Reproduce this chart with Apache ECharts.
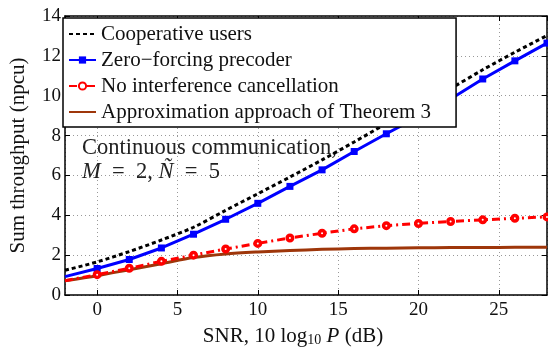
<!DOCTYPE html>
<html>
<head>
<meta charset="utf-8">
<script src="https://cdn.jsdelivr.net/npm/echarts@6/dist/echarts.min.js"></script>
<style>
html, body { margin: 0; padding: 0; background: #fff; }
#main { width: 548px; height: 352px; }
</style>
</head>
<body>
<div id="main"></div>
<script>
// SNR (dB)
var snr = [-2, 0, 2, 4, 6, 8, 10, 12, 14, 16, 18, 20, 22, 24, 26, 28];
// sum throughput (npcu)
var coopUsers = [1.24, 1.66, 2.18, 2.76, 3.40, 4.25, 5.08, 5.92, 6.78, 7.68, 8.60, 9.48, 10.36, 11.30, 12.18, 13.02];
var zfPrecoder = [0.92, 1.33, 1.78, 2.36, 3.05, 3.80, 4.60, 5.45, 6.28, 7.20, 8.09, 8.95, 9.84, 10.84, 11.75, 12.64];
var noCancel = [0.72, 1.02, 1.34, 1.69, 2.00, 2.31, 2.59, 2.86, 3.10, 3.32, 3.48, 3.59, 3.69, 3.77, 3.85, 3.92];
var approxThm3 = [0.72, 0.97, 1.27, 1.57, 1.88, 2.06, 2.16, 2.23, 2.29, 2.33, 2.35, 2.37, 2.38, 2.38, 2.39, 2.39];

var serif = '"Liberation Serif", "DejaVu Serif", serif';

// 第一个点 (-2 dB) 没有标记
function toPoints(ys, noFirstMark) {
	var out = [];
	for (var i = 0; i < snr.length; i++) {
		if (noFirstMark && i == 0) {
			out.push({ value: [snr[i], ys[i]], symbol: 'none' });
		} else {
			out.push([snr[i], ys[i]]);
		}
	}
	return out;
}

var axisLine = { show: true, onZero: false, lineStyle: { color: '#000', width: 1.5 } };
var axisTick = { show: true, inside: true, length: 5, lineStyle: { color: '#000', width: 1 } };
var gridLine = { show: true, lineStyle: { color: '#999', width: 1, type: [1, 3] } };

var myChart = echarts.init(document.getElementById('main'));

myChart.setOption({
	animation: false,
	backgroundColor: '#fff',
	grid: { left: 57, right: 1, top: 16, bottom: 47, containLabel: false },
	legend: {
		orient: 'vertical',
		left: 63,
		top: 18,
		z: 20,
		padding: [3, 25, 2, 5],
		itemGap: 0,
		itemWidth: 27,
		itemHeight: 9,
		backgroundColor: '#fff',
		borderColor: '#000',
		borderWidth: 1.5,
		textStyle: { fontFamily: serif, fontSize: 21, color: '#111', lineHeight: 26 },
		data: ['Cooperative users', 'Zero\u2212forcing precoder', 'No interference cancellation', 'Approximation approach of Theorem 3']
	},
	xAxis: [{
		type: 'value',
		min: -2,
		max: 28,
		minInterval: 5,
		maxInterval: 5,
		position: 'bottom',
		axisLine: axisLine,
		axisTick: axisTick,
		splitLine: gridLine,
		axisLabel: { showMinLabel: false, showMaxLabel: false, fontFamily: serif, fontSize: 19, color: '#111', margin: 6 },
		name: '{n|SNR, 10 log}{s|10}{n| }{i|P}{n| (dB)}',
		nameLocation: 'middle',
		nameGap: 30,
		nameTextStyle: {
			padding: [0, 26, 0, 0],
			rich: {
				n: { fontFamily: serif, fontSize: 21, color: '#111' },
				i: { fontFamily: serif, fontSize: 21, fontStyle: 'italic', color: '#111' },
				s: { fontFamily: serif, fontSize: 14, color: '#111', padding: [8, 0, 0, 0] }
			}
		}
	}, {
		type: 'value',
		min: -2,
		max: 28,
		minInterval: 5,
		maxInterval: 5,
		position: 'top',
		axisLine: axisLine,
		axisTick: axisTick,
		axisLabel: { show: false },
		splitLine: { show: false }
	}],
	yAxis: [{
		type: 'value',
		min: 0,
		max: 14,
		interval: 2,
		position: 'left',
		axisLine: axisLine,
		axisTick: axisTick,
		splitLine: gridLine,
		axisLabel: { fontFamily: serif, fontSize: 19, color: '#111', margin: 4 },
		name: 'Sum throughput (npcu)',
		nameLocation: 'middle',
		nameGap: 36,
		nameTextStyle: { fontFamily: serif, fontSize: 21, color: '#111' }
	}, {
		type: 'value',
		min: 0,
		max: 14,
		interval: 2,
		position: 'right',
		axisLine: axisLine,
		axisTick: axisTick,
		axisLabel: { show: false },
		splitLine: { show: false }
	}],
	graphic: [{
		type: 'text',
		x: 82,
		y: 148,
		z: 1,
		style: { text: 'Continuous communication,', font: '22.5px ' + serif, fill: '#222', verticalAlign: 'middle' }
	}, {
		type: 'text',
		x: 82,
		y: 172,
		z: 1,
		style: {
			text: '{i|M}{n|\u2002=\u20022, }{i|\u00d1}{n|\u2002=\u20025}',
			verticalAlign: 'middle',
			rich: {
				i: { font: 'italic 22.5px ' + serif, fill: '#222' },
				n: { font: '22.5px ' + serif, fill: '#222' }
			}
		}
	}],
	series: [{
		name: 'Cooperative users',
		type: 'line',
		data: toPoints(coopUsers, false),
		symbol: 'none',
		smooth: 0.3,
		color: '#000',
		itemStyle: { opacity: 0 },
		lineStyle: { color: '#000', width: 3, type: [4, 3] },
		z: 5
	}, {
		name: 'Zero\u2212forcing precoder',
		type: 'line',
		data: toPoints(zfPrecoder, true),
		symbol: 'rect',
		symbolSize: 7,
		color: '#0000ff',
		itemStyle: { color: '#0000ff' },
		lineStyle: { color: '#0000ff', width: 3 },
		z: 4
	}, {
		name: 'No interference cancellation',
		type: 'line',
		data: toPoints(noCancel, true),
		symbol: 'circle',
		symbolSize: 5.5,
		color: '#ff0000',
		itemStyle: { color: '#fff', borderColor: '#ff0000', borderWidth: 3.5 },
		lineStyle: { color: '#ff0000', width: 3, type: [8, 4, 2, 4] },
		z: 4
	}, {
		name: 'Approximation approach of Theorem 3',
		type: 'line',
		data: toPoints(approxThm3, false),
		symbol: 'none',
		smooth: 0.3,
		color: '#9e360a',
		itemStyle: { opacity: 0 },
		lineStyle: { color: '#9e360a', width: 3 },
		z: 3
	}]
});
</script>
</body>
</html>
